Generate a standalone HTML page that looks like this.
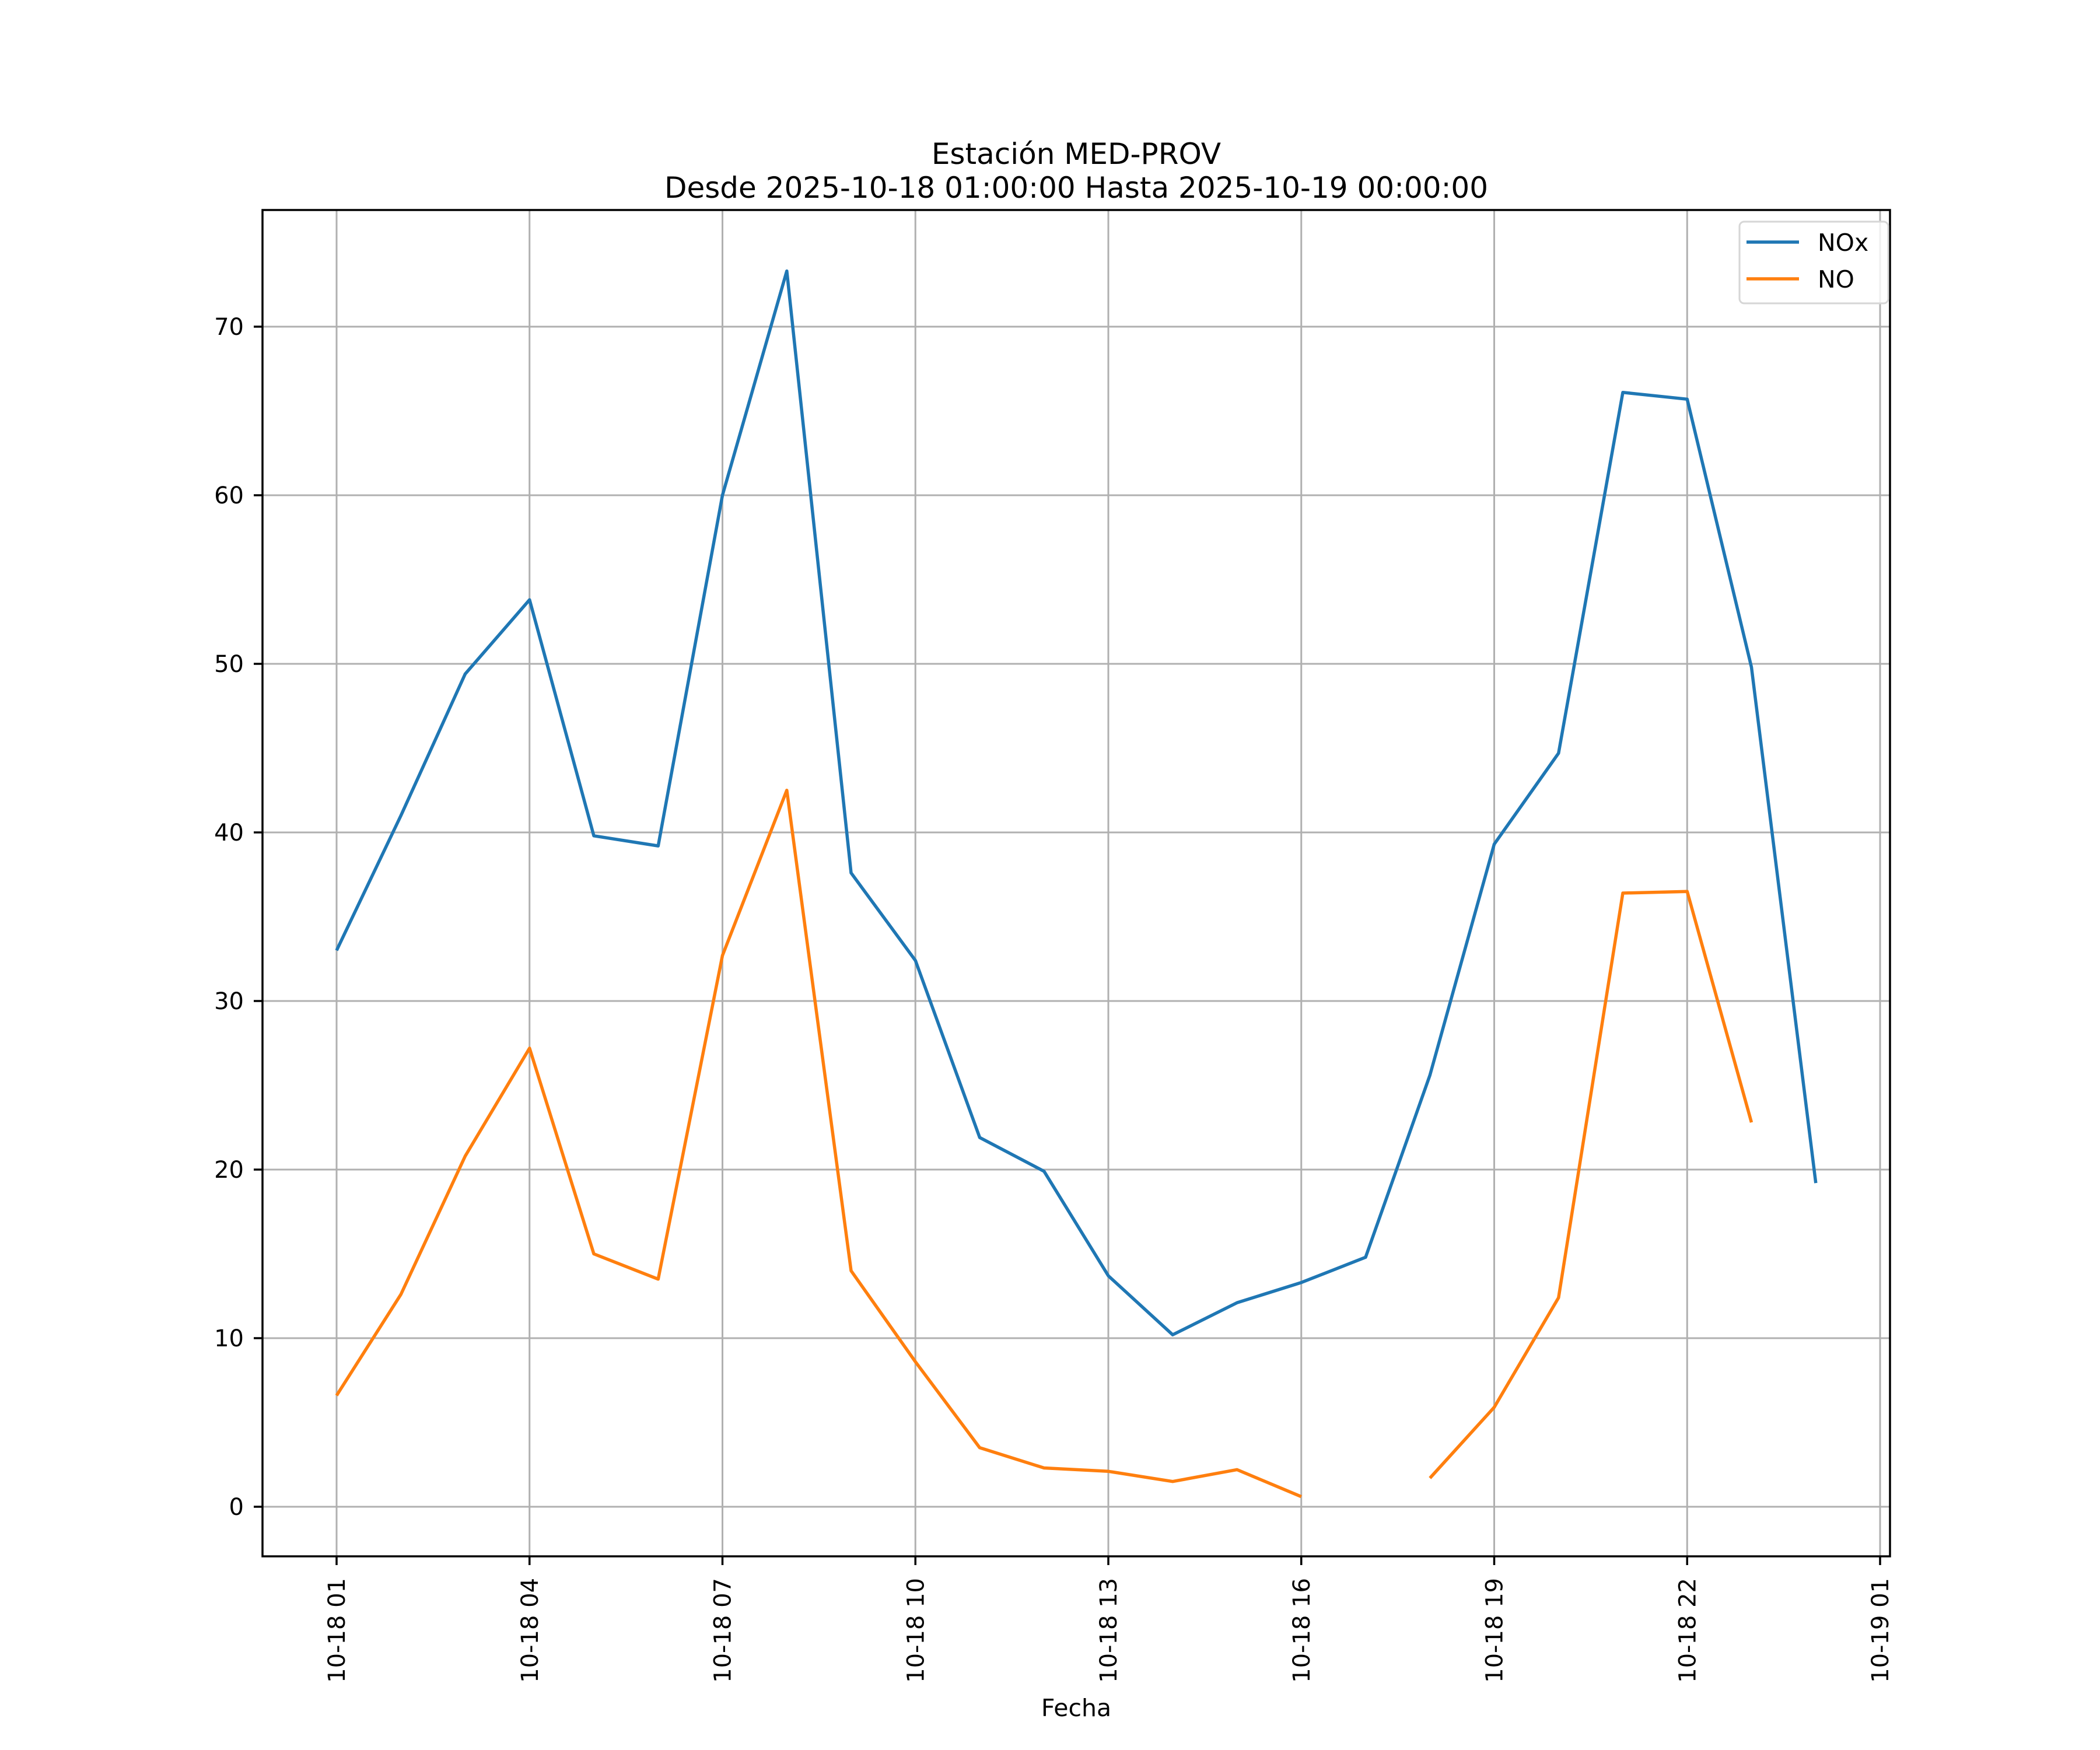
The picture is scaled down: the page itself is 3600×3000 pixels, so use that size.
<!DOCTYPE html>
<html><head><meta charset="utf-8"><style>
html,body{margin:0;padding:0;background:#fff}
svg{display:block}
text{font-family:"DejaVu Sans","Liberation Sans",sans-serif;fill:#000}
</style></head><body>
<svg id="chart" width="3600" height="3000" viewBox="0 0 3600 3000" xmlns="http://www.w3.org/2000/svg">
<rect width="3600" height="3000" fill="#fff"/>
<g id="grid"></g>
<g id="series"></g>
<rect x="450" y="360" width="2790" height="2308" fill="none" stroke="#000" stroke-width="3.5"/>
<g id="axes"></g>
<text x="1845" y="281" text-anchor="middle" font-size="50">Estación MED-PROV</text>
<text x="1845" y="339" text-anchor="middle" font-size="50">Desde 2025-10-18 01:00:00 Hasta 2025-10-19 00:00:00</text>
<text x="1845" y="2942" text-anchor="middle" font-size="41">Fecha</text>
<g>
<rect x="2982" y="380" width="255" height="140" rx="8" fill="#fff" fill-opacity="0.8" stroke="#d6d6d6" stroke-width="3"/>
<line x1="2994" y1="415" x2="3084" y2="415" stroke="#1f77b4" stroke-width="5.5"/>
<text x="3116" y="430" font-size="41">NOx</text>
<line x1="2994" y1="478" x2="3084" y2="478" stroke="#ff7f0e" stroke-width="5.5"/>
<text x="3116" y="493" font-size="41">NO</text>
</g>
</svg>
<script>
const hours = [1,2,3,4,5,6,7,8,9,10,11,12,13,14,15,16,17,18,19,20,21,22,23,24];
const noxValues = [33.0,41.0,49.4,53.8,39.8,39.2,60.0,73.3,37.6,32.4,21.9,19.9,13.7,10.2,12.1,13.3,14.8,25.6,39.3,44.7,66.1,65.7,49.8,19.2];
const noValues = [6.6,12.6,20.8,27.2,15.0,13.5,32.7,42.5,14.0,8.6,3.5,2.3,2.1,1.5,2.2,0.6,null,1.7,5.9,12.4,36.4,36.5,22.8,null];
const yTicks = [0,10,20,30,40,50,60,70];
const xTickHours = [1,4,7,10,13,16,19,22,25];
const xTickLabels = ["10-18 01","10-18 04","10-18 07","10-18 10","10-18 13","10-18 16","10-18 19","10-18 22","10-19 01"];

const NS = "http://www.w3.org/2000/svg";
const xScale = h => 577 + (h - 1) * (3223 - 577) / 24;
const yScale = v => 2583 - v * (2583 - 560) / 70;
function mk(tag, attrs, parent){
  const el = document.createElementNS(NS, tag);
  for (const k in attrs) el.setAttribute(k, attrs[k]);
  parent.appendChild(el);
  return el;
}
const grid = document.getElementById('grid');
const axes = document.getElementById('axes');
const series = document.getElementById('series');

yTicks.forEach(v => {
  const y = yScale(v);
  const g = mk('line', {x1:450, x2:3240, y1:y, y2:y, stroke:'#b0b0b0', 'stroke-width':3}, grid);
  
  
  const t = mk('line', {x1:435, x2:450, y1:y, y2:y, stroke:'#000', 'stroke-width':3.5}, axes);
  
  
  const l = mk('text', {x:418, y:y+14, 'text-anchor':'end', 'font-size':40}, axes);
  l.textContent = String(v);
  
  
});
xTickHours.forEach((h, i) => {
  const x = xScale(h);
  const g = mk('line', {x1:x, x2:x, y1:360, y2:2668, stroke:'#b0b0b0', 'stroke-width':3}, grid);
  
  
  const t = mk('line', {x1:x, x2:x, y1:2668, y2:2683, stroke:'#000', 'stroke-width':3.5}, axes);
  
  
  const l = mk('text', {transform:`translate(${x + 14},2705) rotate(-90)`, 'text-anchor':'end', 'font-size':40}, axes);
  l.textContent = xTickLabels[i];
  
  
});
function drawSeries(vals, color, name){
  let d = '', pen = false;
  vals.forEach((v, i) => {
    if (v === null) { pen = false; return; }
    d += (pen ? 'L' : 'M') + xScale(hours[i]).toFixed(1) + ',' + yScale(v).toFixed(1);
    pen = true;
  });
  const p = mk('path', {d:d, fill:'none', stroke:color, 'stroke-width':5.5, 'stroke-linejoin':'round'}, series);
  
  
}
drawSeries(noxValues, '#1f77b4', 'nox-line');
drawSeries(noValues, '#ff7f0e', 'no-line');
</script>
</body></html>
